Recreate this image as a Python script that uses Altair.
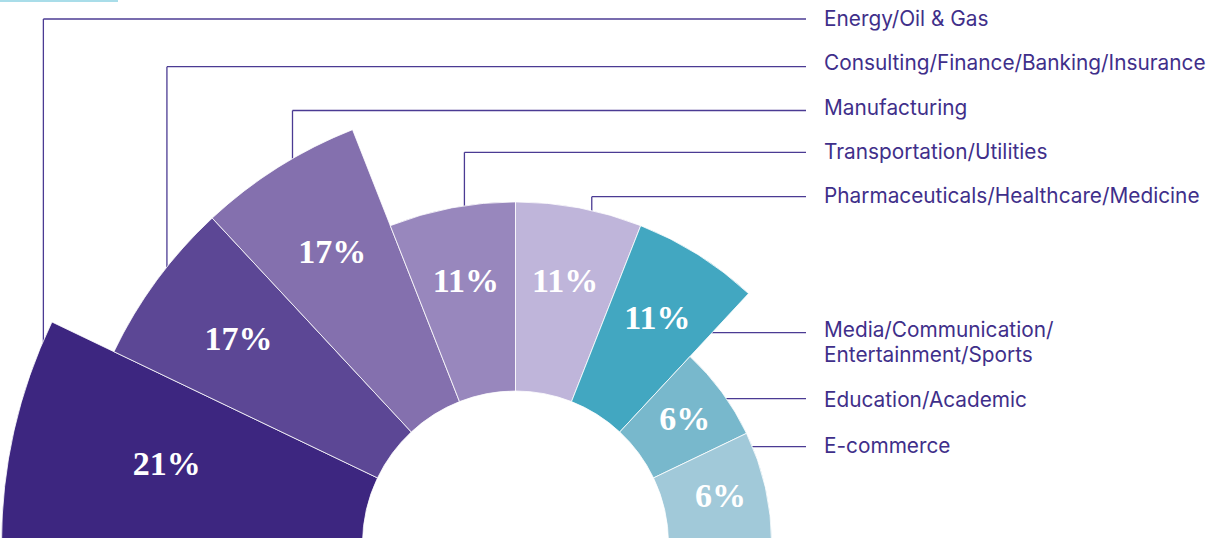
import math
import altair as alt
import pandas as pd

# ---------------- data ----------------
categories = [
    "Energy/Oil & Gas",
    "Consulting/Finance/Banking/Insurance",
    "Manufacturing",
    "Transportation/Utilities",
    "Pharmaceuticals/Healthcare/Medicine",
    "Media/Communication/Entertainment/Sports",
    "Education/Academic",
    "E-commerce",
]
shares = [21, 17, 17, 11, 11, 11, 6, 6]
label_text = [
    "Energy/Oil & Gas",
    "Consulting/Finance/Banking/Insurance",
    "Manufacturing",
    "Transportation/Utilities",
    "Pharmaceuticals/Healthcare/Medicine",
    "Media/Communication/\nEntertainment/Sports",
    "Education/Academic",
    "E-commerce",
]
colors = ["#3d2680", "#5c4795", "#8470ae", "#9887bd",
          "#bfb5da", "#42a7c1", "#78b8cc", "#a1c9d9"]

# ---------------- layout (pixels / styles) ----------------
W, H = 1226, 538
CX, CY = 515.5, 544
R_IN, R_OUT_MAX = 153, 514
END_WEIGHT = 1.192          # first/last wedge are a little wider
N = len(categories)
TOTAL = N - 2 + 2 * END_WEIGHT
MAXS = max(shares)
TEXT_X = 824
LINE_END_X = 806
text_base_y = [26, 70.3, 114.6, 158.9, 203.2, 337, 406.5, 452.5]
leader_y = [19, 66.7, 110.5, 152.3, 196.7, 332.7, 398.7, 446.7]
TXT_C = "#3f2f8a"
LINE_C = "#4b3b93"


def js(lst):
    return "[" + ",".join(str(v) for v in lst) + "]"


df = pd.DataFrame({
    "industry": categories,
    "share": shares,
    "label": label_text,
    "order": list(range(N)),
})

base = alt.Chart(df).transform_calculate(
    span=f"datum.order == 0 || datum.order == {N - 1} ? {END_WEIGHT} : 1"
).transform_window(
    cum="sum(span)", sort=[alt.SortField("order")], frame=[None, 0]
).transform_calculate(
    t0="datum.cum - datum.span",
    t1="datum.cum",
    tm="datum.cum - datum.span / 2",
)

theta_scale = alt.Scale(type="linear", domain=[0, TOTAL],
                        range=[-math.pi / 2, math.pi / 2])
r_scale = alt.Scale(type="linear", domain=[0, MAXS], range=[R_IN, R_OUT_MAX])

arcs = base.mark_arc(innerRadius=R_IN, stroke="white", strokeWidth=0.8).encode(
    theta=alt.Theta("t0:Q", scale=theta_scale),
    theta2="t1:Q",
    radius=alt.Radius("share:Q", scale=r_scale),
    color=alt.Color("industry:N", scale=alt.Scale(domain=categories, range=colors),
                    legend=None),
    x=alt.value(CX),
    y=alt.value(CY),
)

pct = base.transform_calculate(
    lp="min(datum.share * (0.5 + 0.009 * datum.share), 11.9)",
    pct="datum.share + '%'",
).mark_text(
    font="Liberation Serif", fontWeight="bold", fontSize=34, color="white",
    align="center", baseline="middle",
).encode(
    theta=alt.Theta("tm:Q", scale=theta_scale),
    radius=alt.Radius("lp:Q", scale=r_scale),
    text="pct:N",
    x=alt.value(CX),
    y=alt.value(CY),
)

# leader line geometry derived from wedge geometry
geo = base.transform_calculate(
    a0=f"PI * datum.t0 / {TOTAL}",
    a1=f"PI * datum.t1 / {TOTAL}",
    r=f"{R_IN} + {R_OUT_MAX - R_IN} * datum.share / {MAXS}",
    drop=f"datum.tm < {TOTAL} * 0.62",
    ly=f"{js(leader_y)}[datum.order]",
).transform_calculate(
    f="datum.order == 0 ? 0.91 : 0.6",
    dy=f"{CY} - datum.ly",
).transform_calculate(
    phi="datum.a0 + datum.f * (datum.a1 - datum.a0)",
).transform_calculate(
    xv=f"{CX} - datum.r * cos(datum.phi)",
    yarc=f"{CY} - datum.r * sin(datum.phi) + 4",
    xarc=f"{CX} + sqrt(max(datum.r * datum.r - datum.dy * datum.dy, 0))",
    xedge=f"datum.a1 > PI - 1e-6 ? 1e9 : {CX} + datum.dy / tan(PI - datum.a1)",
).transform_calculate(
    hx="datum.drop ? datum.xv : min(datum.xarc, datum.xedge) - 4",
)

hrules = geo.mark_rule(color=LINE_C, strokeWidth=1.3).encode(
    x=alt.X("hx:Q", scale=None, axis=None),
    x2=alt.value(LINE_END_X),
    y=alt.Y("ly:Q", scale=None, axis=None),
)

vrules = geo.transform_filter("datum.drop").mark_rule(
    color=LINE_C, strokeWidth=1.3
).encode(
    x=alt.X("xv:Q", scale=None, axis=None),
    y=alt.Y("ly:Q", scale=None, axis=None),
    y2="yarc:Q",
)

names = base.transform_calculate(
    ty=f"{js(text_base_y)}[datum.order]"
).mark_text(
    font="Inter", fontSize=20.8, color=TXT_C, align="left",
    baseline="alphabetic", lineBreak="\n", lineHeight=25,
).encode(
    x=alt.value(TEXT_X),
    y=alt.Y("ty:Q", scale=None, axis=None),
    text="label:N",
)

corner = alt.Chart(df).mark_rule(color="#a9dde9", strokeWidth=2).encode(
    x=alt.value(0), x2=alt.value(118), y=alt.value(1)
)

chart = alt.layer(hrules, vrules, arcs, pct, names, corner).properties(
    width=W, height=H, padding=0, autosize="none", background="white"
).configure_view(stroke=None)

chart.save("out.html", embed_options={"renderer": "svg", "actions": False})
